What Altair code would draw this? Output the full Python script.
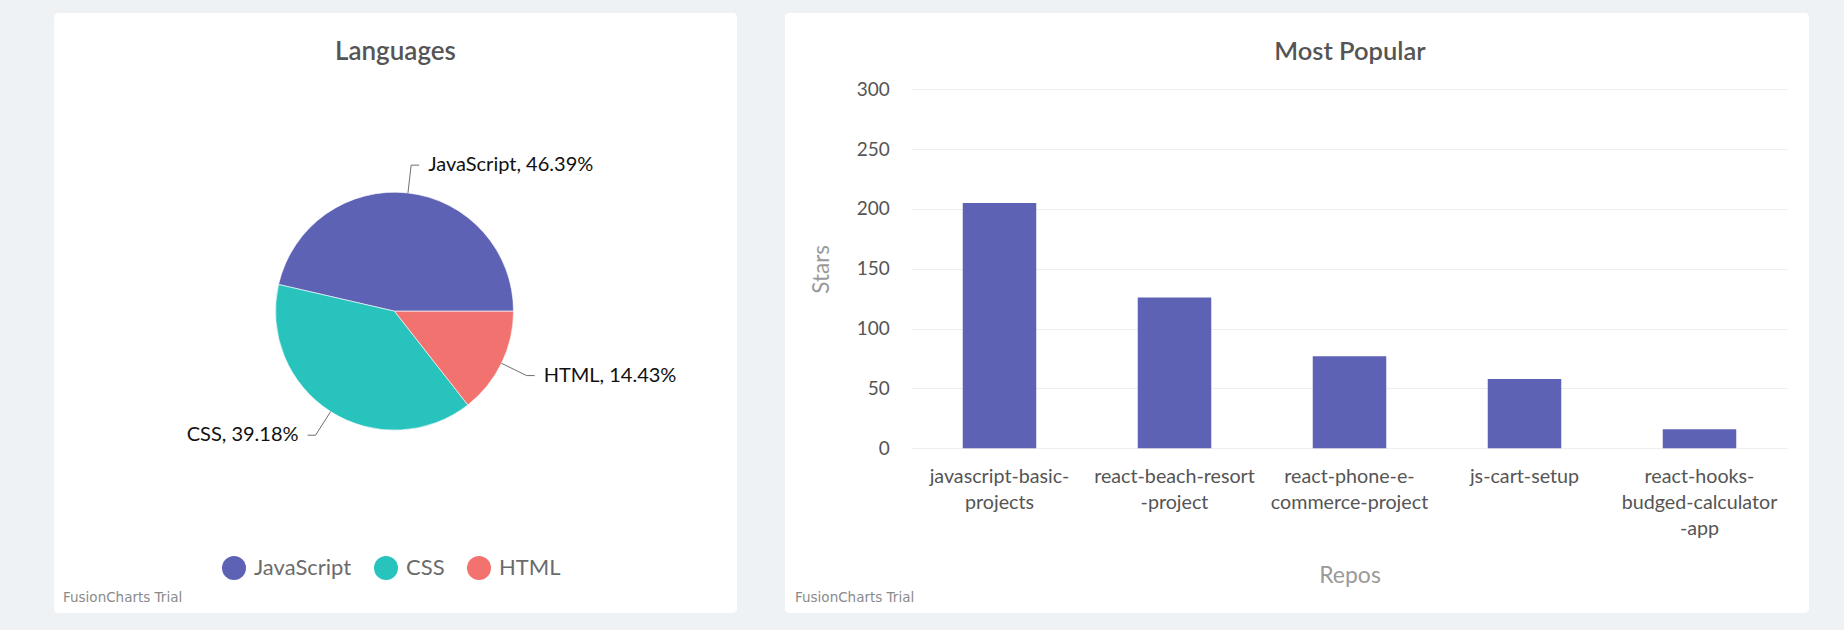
import json
import math
import altair as alt
import pandas as pd

# ---------------- data ----------------
languages = ["JavaScript", "CSS", "HTML"]
language_share = [46.39, 39.18, 14.43]
language_colors = ["#5d62b5", "#29c3be", "#f2726f"]

repos = [
    "javascript-basic-projects",
    "react-beach-resort-project",
    "react-phone-e-commerce-project",
    "js-cart-setup",
    "react-hooks-budged-calculator-app",
]
repo_stars = [205, 126, 77, 58, 16]
repo_tick_labels = [
    ["javascript-basic-", "projects"],
    ["react-beach-resort", "-project"],
    ["react-phone-e-", "commerce-project"],
    ["js-cart-setup"],
    ["react-hooks-", "budged-calculator", "-app"],
]
star_ticks = [0, 50, 100, 150, 200, 250, 300]

# ---------------- style ----------------
FONT = "Lato"
TRIAL_FONT = "DejaVu Sans"
PAGE_BG = "#eef2f5"
TITLE_COLOR = "#555555"
LABEL_COLOR = "#555555"
AXIS_TITLE_COLOR = "#9a9a9a"

L_W, R_W, H = 683, 1024, 600
PIE_CX, PIE_CY, PIE_R, ELBOW_R = 340.5, 298.2, 119, 147

# ---------------- pie panel ----------------
pie_df = pd.DataFrame({"language": languages, "share": language_share,
                       "idx": list(range(len(languages)))})
pie_base = alt.Chart(pie_df)

arcs = pie_base.mark_arc(outerRadius=PIE_R, stroke="white", strokeWidth=0.6).encode(
    theta=alt.Theta("share:Q", stack=True,
                    scale=alt.Scale(range=[math.pi / 2, math.pi / 2 + 2 * math.pi])),
    order=alt.Order("idx:Q", sort="descending"),
    color=alt.Color(
        "language:N",
        scale=alt.Scale(domain=languages, range=language_colors),
        legend=alt.Legend(
            title=None, orient="none", legendX=168, legendY=543,
            direction="horizontal", symbolType="circle", symbolSize=576,
            symbolStrokeWidth=0, symbolOpacity=1, labelFont=FONT,
            labelFontSize=22, labelColor="#6b6b6b", labelOffset=8,
            columnPadding=22, padding=0,
        ),
    ),
    x=alt.value(PIE_CX), y=alt.value(PIE_CY),
)

lbl = (
    pie_base.transform_joinaggregate(total="sum(share)")
    .transform_window(cum="sum(share)", sort=[alt.SortField("idx", order="descending")])
    .transform_calculate(mid="((datum.cum - datum.share / 2) / datum.total) * 2 * PI + PI / 2")
    .transform_calculate(
        ex=f"{PIE_CX} + {PIE_R} * sin(datum.mid)",
        ey=f"{PIE_CY} - {PIE_R} * cos(datum.mid)",
        kx=f"{PIE_CX} + {ELBOW_R} * sin(datum.mid)",
        ky=f"{PIE_CY} - {ELBOW_R} * cos(datum.mid)",
        side="sin(datum.mid) >= 0 ? 1 : -1",
        label="datum.language + ', ' + format(datum.share / datum.total * 100, '.2f') + '%'",
    )
    .transform_calculate(hx="datum.kx + 8 * datum.side", tx="datum.kx + 17 * datum.side")
)

conn1 = lbl.mark_rule(color="#6f6f6f", strokeWidth=1).encode(
    x=alt.X("ex:Q", scale=None, axis=None), y=alt.Y("ey:Q", scale=None, axis=None),
    x2="kx:Q", y2="ky:Q")
conn2 = lbl.mark_rule(color="#6f6f6f", strokeWidth=1).encode(
    x=alt.X("kx:Q", scale=None, axis=None), y=alt.Y("ky:Q", scale=None, axis=None),
    x2="hx:Q", y2="ky:Q")
txt_r = lbl.transform_filter("datum.side > 0").mark_text(
    align="left", baseline="middle", font=FONT, fontSize=20, color="#111111").encode(
    x=alt.X("tx:Q", scale=None, axis=None), y=alt.Y("ky:Q", scale=None, axis=None), text="label:N")
txt_l = lbl.transform_filter("datum.side < 0").mark_text(
    align="right", baseline="middle", font=FONT, fontSize=20, color="#111111").encode(
    x=alt.X("tx:Q", scale=None, axis=None), y=alt.Y("ky:Q", scale=None, axis=None), text="label:N")

left_title = alt.Chart(pd.DataFrame({"t": ["Languages"]})).mark_text(
    font=FONT, fontSize=26, fontWeight=600, color=TITLE_COLOR, baseline="middle").encode(
    text="t:N", x=alt.value(341.5), y=alt.value(39))
left_trial = alt.Chart(pd.DataFrame({"t": ["FusionCharts Trial"]})).mark_text(
    font=TRIAL_FONT, fontSize=13.5, color="#8a8a8a", align="left", baseline="middle").encode(
    text="t:N", x=alt.value(9), y=alt.value(585))

left = alt.layer(arcs, conn1, conn2, txt_r, txt_l, left_title, left_trial).properties(
    width=L_W, height=H)

# ---------------- bar panel ----------------
bar_df = pd.DataFrame({"repo": repos, "stars": repo_stars})
label_expr = "{}[indexof({}, datum.value)]".format(json.dumps(repo_tick_labels), json.dumps(repos))

bars = alt.Chart(bar_df).mark_bar(color="#5d62b5").encode(
    x=alt.X(
        "repo:N", sort=repos,
        scale=alt.Scale(range=[127, 1002], paddingInner=0.58, paddingOuter=0.29),
        axis=alt.Axis(
            title="Repos", labelExpr=label_expr, labelFont=FONT, labelFontSize=19.7,
            labelColor=LABEL_COLOR, labelLineHeight=26, labelPadding=18,
            labelAngle=0, labelBaseline="top", labelOverlap=False, labelLimit=400,
            ticks=False, tickSize=0, domain=False, grid=False, offset=-164.7,
            titleX=564.5, titleY=127.5, titleBaseline="middle", titleAlign="center",
            titleFont=FONT, titleFontSize=23, titleFontWeight="normal",
            titleColor=AXIS_TITLE_COLOR,
        ),
    ),
    y=alt.Y(
        "stars:Q",
        scale=alt.Scale(domain=[0, 300], range=[435.3, 76.3], nice=False),
        axis=alt.Axis(
            title="Stars", values=star_ticks, labelFont=FONT, labelFontSize=19,
            labelColor=LABEL_COLOR, labelPadding=22.7, domain=False, ticks=False,
            tickSize=0, grid=True, gridColor="#eeeeee", gridWidth=1, offset=-127,
            titleX=-91, titleY=255.8, titleAngle=270, titleAlign="center",
            titleBaseline="middle", titleFont=FONT, titleFontSize=22.5,
            titleFontWeight="normal", titleColor=AXIS_TITLE_COLOR,
        ),
    ),
)

right_title = alt.Chart(pd.DataFrame({"t": ["Most Popular"]})).mark_text(
    font=FONT, fontSize=25.5, fontWeight=600, color=TITLE_COLOR, baseline="middle").encode(
    text="t:N", x=alt.value(565), y=alt.value(39))
right_trial = alt.Chart(pd.DataFrame({"t": ["FusionCharts Trial"]})).mark_text(
    font=TRIAL_FONT, fontSize=13.5, color="#8a8a8a", align="left", baseline="middle").encode(
    text="t:N", x=alt.value(10), y=alt.value(585))

right = alt.layer(bars, right_title, right_trial).properties(width=R_W, height=H)

chart = (
    alt.hconcat(left, right, spacing=48)
    .properties(background=PAGE_BG,
                padding={"left": 54, "top": 13, "right": 35, "bottom": 17})
    .configure(font=FONT)
    .configure_view(fill="white", stroke="transparent", strokeWidth=0, cornerRadius=4)
)

chart.save("out.html", embed_options={"renderer": "svg", "actions": False})
